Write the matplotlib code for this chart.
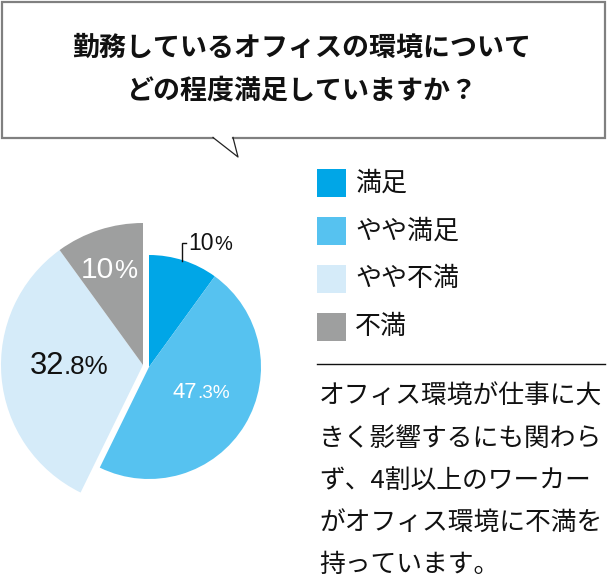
import matplotlib
matplotlib.use("Agg")
import matplotlib.pyplot as plt
from matplotlib.patches import Rectangle
import numpy as np

# ---------------- data ----------------
title_lines = ["勤務しているオフィスの環境について", "どの程度満足していますか？"]
categories = ["満足", "やや満足", "やや不満", "不満"]
values = [10, 47.3, 32.8, 10]
colors = ["#00a6e7", "#56c2f0", "#d5ebf9", "#9e9f9f"]
note_lines = ["オフィス環境が仕事に大", "きく影響するにも関わら", "ず、4割以上のワーカー",
              "がオフィス環境に不満を", "持っています。"]

CJK = ["Noto Sans CJK JP", "DejaVu Sans"]
NUM = ["Liberation Sans", "DejaVu Sans"]

def pt(px):
    return px * 0.72

fig = plt.figure(figsize=(6.15, 5.8), dpi=100)
ax = fig.add_axes([0, 0, 1, 1])

# ---------------- pie ----------------
wedges, _ = ax.pie(values, colors=colors, startangle=-90, counterclock=True,
                   wedgeprops=dict(linewidth=0))
groups = [((149, 367), 112), ((149, 367), 112), ((143, 365), 142), ((143, 365), 142)]
for w, (c, r) in zip(wedges, groups):
    w.set_center(c)
    w.set_radius(r)

ax.set_xlim(0, 615)
ax.set_ylim(580, 0)
ax.set_aspect("auto")
ax.axis("off")

def split_label(v):
    s = f"{v:g}"
    if "." in s:
        a, b = s.split(".")
        return a, "." + b + "%"
    return s, "%"

# label anchors (x where big/small part meet, baseline y), big/small px sizes, color
label_style = {
    0: (214, 250, 23, 20, "#111111"),
    1: (197, 398, 22, 19, "white"),
    2: (64, 374, 31, 26, "#111111"),
    3: (114, 278, 30, 26, "white"),
}
for i, v in enumerate(values):
    big, small = split_label(v)
    x, y, fb, fs, col = label_style[i]
    ax.text(x, y, big, ha="right", va="baseline", fontsize=pt(fb), color=col, family=NUM)
    ax.text(x, y, small, ha="left", va="baseline", fontsize=pt(fs), color=col, family=NUM)

# leader line for the first wedge
w0 = wedges[0]
mid = np.deg2rad((w0.theta1 + w0.theta2) / 2)
cx, cy = w0.center
r0 = w0.r
px0 = cx + r0 * np.cos(mid) - 2
py0 = cy + r0 * np.sin(mid)
ax.plot([px0, px0, px0 + 4], [py0 + 1, 243, 243], color="#111111", lw=1.0,
        solid_joinstyle="miter")

# ---------------- title bubble ----------------
box_col = "#808080"
ax.plot([213, 1.5, 1.5, 605, 605, 233], [137.5, 137.5, 2, 2, 137.5, 137.5],
        color=box_col, lw=1.6, solid_joinstyle="miter", clip_on=False)
ax.plot([213, 238, 233], [137.5, 157, 137.5], color="#222222", lw=0.9)
title_y = [48, 91]
for line, y in zip(title_lines, title_y):
    ax.text(302, y, line, ha="center", va="center", fontsize=pt(27),
            fontweight="bold", color="#111111", family=CJK)

# ---------------- legend ----------------
for i, (lab, col) in enumerate(zip(categories, colors)):
    y0 = 169 + 48 * i
    ax.add_patch(Rectangle((317, y0), 29, 28, facecolor=col, edgecolor="none"))
    ax.text(355, y0 + 14, lab, ha="left", va="center", fontsize=pt(26),
            color="#111111", family=CJK)

# separator
ax.plot([317, 605], [364, 364], color="#111111", lw=1.0)

# ---------------- note ----------------
for i, line in enumerate(note_lines):
    ax.text(319, 397 + 42 * i, line, ha="left", va="center", fontsize=pt(25.8),
            color="#111111", family=CJK)

fig.savefig("out.png", dpi=100)
